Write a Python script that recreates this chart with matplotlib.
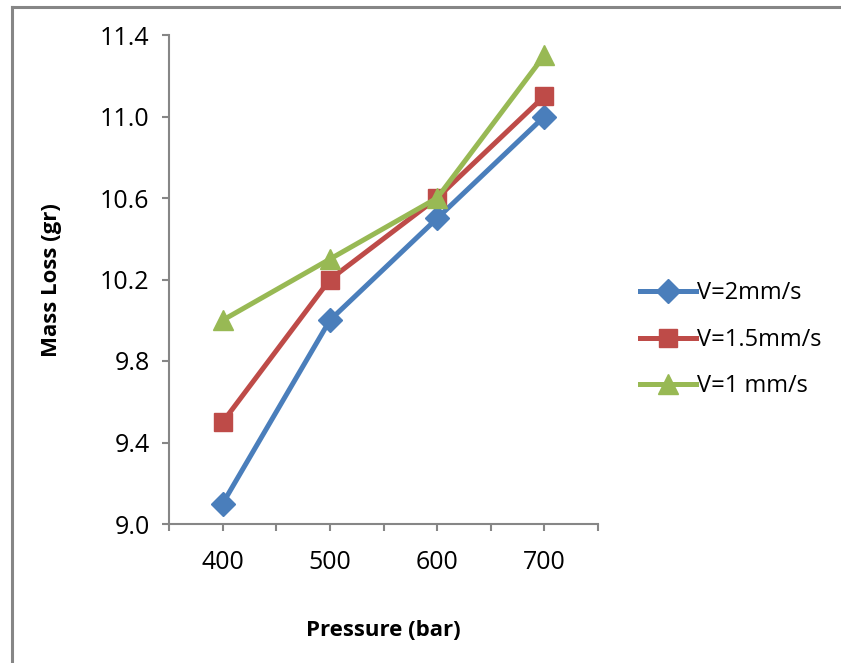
import matplotlib
matplotlib.use("Agg")
import matplotlib.pyplot as plt
from matplotlib.lines import Line2D
from matplotlib.ticker import FixedLocator

plt.rcParams['font.family'] = ['Open Sans', 'DejaVu Sans']

pressures = ["400", "500", "600", "700"]
v2 = [9.1, 10.0, 10.5, 11.0]
v15 = [9.5, 10.2, 10.6, 11.1]
v1 = [10.0, 10.3, 10.6, 11.3]
labels = ["V=2mm/s", "V=1.5mm/s", "V=1 mm/s"]
yticks = [9.0, 9.4, 9.8, 10.2, 10.6, 11.0, 11.4]

W, H = 841, 663
fig = plt.figure(figsize=(W / 100, H / 100), dpi=100)
ax = fig.add_axes([169 / W, 1 - 524 / H, (598 - 169) / W, (524 - 35) / H])

x = list(range(len(pressures)))
series = [(v2, '#4A7EBB', 'D', 12), (v15, '#BE4B48', 's', 13), (v1, '#98B954', '^', 14)]
for (vals, col, mk, ms), lab in zip(series, labels):
    ax.plot(x, vals, color=col, lw=3.6, marker=mk, markersize=ms,
            markerfacecolor=col, markeredgecolor=col, label=lab, clip_on=False)

ax.set_xlim(-0.5, len(pressures) - 0.5)
ax.set_ylim(9.0, 11.4)
ax.set_xticks(x)
ax.set_xticklabels(pressures)
ax.xaxis.set_minor_locator(FixedLocator([i - 0.5 for i in range(len(pressures) + 1)]))
ax.set_yticks(yticks)
ax.set_yticklabels([f"{t:.1f}" for t in yticks])

for s in ['top', 'right']:
    ax.spines[s].set_visible(False)
for s in ['left', 'bottom']:
    ax.spines[s].set_color('#868686')
    ax.spines[s].set_linewidth(1.5)

ax.tick_params(axis='both', which='both', direction='out', length=5, width=1.5,
               color='#868686', labelsize=18, labelcolor='black')
ax.tick_params(axis='x', pad=14)
ax.tick_params(axis='y', pad=9)

ax.set_xlabel("Pressure (bar)", fontsize=16, fontweight='bold')
ax.set_ylabel("Mass Loss (gr)", fontsize=16, fontweight='bold')
ax.xaxis.set_label_coords((383 - 169) / (598 - 169), -(620 - 524) / (524 - 35))
ax.yaxis.set_label_coords(-(169 - 62) / (598 - 169), (524 - 280) / (524 - 35))

leg = fig.legend(loc='upper left', bbox_to_anchor=(631 / W, 1 - 272 / H),
                 frameon=False, fontsize=17, handlelength=2.35, handletextpad=0.05,
                 labelspacing=0.95, borderaxespad=0)

# outer chart border
fig.add_artist(Line2D([11.5 / W, 1], [1 - 6.5 / H, 1 - 6.5 / H], color='#868686', lw=2.2,
                      transform=fig.transFigure))
fig.add_artist(Line2D([11.5 / W, 11.5 / W], [0, 1 - 6.5 / H], color='#868686', lw=2.2,
                      transform=fig.transFigure))

fig.savefig("out.png", dpi=100)
